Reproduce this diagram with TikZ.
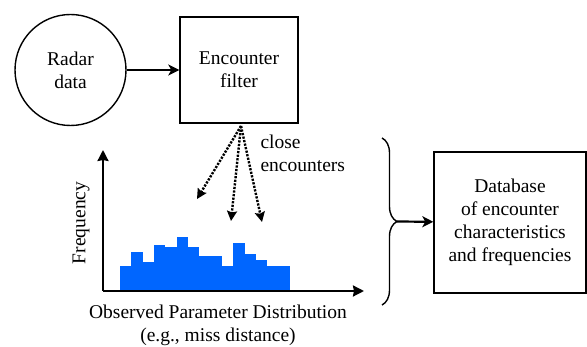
\documentclass[tikz,border=0pt]{standalone}
\usepackage{fontspec}
\setmainfont{Liberation Serif}
\usetikzlibrary{arrows.meta,positioning,decorations.pathreplacing}
\definecolor{histcol}{RGB}{0,102,255}
\tikzset{
  flow text/.style={font=\fontsize{19.5}{23}\selectfont,align=center},
  flow circle/.style={flow text,circle,draw,line width=1.4pt,minimum size=111pt,inner sep=0pt},
  flow box/.style={flow text,rectangle,draw,line width=1.4pt,inner sep=0pt},
  flowedge/.style={-{Stealth[length=11pt,width=11pt,inset=3pt]},line width=2.2pt},
  fanedge/.style={-{Stealth[length=10pt,width=10pt,inset=1.5pt]},line width=2.4pt,dash pattern=on 2.2pt off 1.4pt},
  axisedge/.style={-{Stealth[length=11pt,width=11pt,inset=1pt]},line width=2.2pt},
  histbar/.style={fill=histcol,draw=none}
}
\begin{document}
\begin{tikzpicture}[x=1pt,y=-1pt]
\useasboundingbox (0,0) rectangle (587,347);
% ---- top row ----
\node[flow circle] (radar) at (70.5,70) {Radar\\data};
\node[flow box,minimum width=118pt,minimum height=106pt] (filter) at (239,70) {Encounter\\filter};
\draw[flowedge] (radar) -- (filter);
% ---- histogram ----
\coordinate (orig) at (103,291);
\coordinate (ytop) at (103,150);
\coordinate (xend) at (364,291);
\foreach \i/\h in {0/25.3,1/39,2/29.3,3/46,4/44.3,5/54.3,6/44.3,7/35,8/35,9/25.3,10/48.3,11/37,12/31,13/25.3,14/25.3}{
  \fill[histbar] ({120+\i*11.333},290) rectangle ({120+(\i+1)*11.333},{291-\h});}
\draw[axisedge] (orig) -- (ytop);
\draw[axisedge] (orig) -- (xend);
\node[flow text,rotate=90] (freq) at (81,223) {Frequency};
\node[flow text] (xlab) at (218,325) {Observed Parameter Distribution\\(e.g., miss distance)};
% ---- close encounters ----
\coordinate (fan) at (241,126);
\coordinate (hitA) at (197,199);
\coordinate (hitB) at (231,221);
\coordinate (hitC) at (262,222);
\foreach \t in {hitA,hitB,hitC}{
  \draw[fanedge] (fan) -- (\t);}
\node[flow text,align=left,anchor=north west] (close) at (257,131) {close\\encounters};
% ---- database ----
\draw[line width=1.4pt,decorate,decoration={brace,amplitude=15pt}] (382,138) -- (382,305);
\coordinate (bracetip) at (397,221.5);
\node[flow box,minimum width=152pt,minimum height=141pt] (db) at (510,222.5) {Database\\of encounter\\characteristics\\and frequencies};
\draw[flowedge] (bracetip) -- (db);
\end{tikzpicture}
\end{document}
